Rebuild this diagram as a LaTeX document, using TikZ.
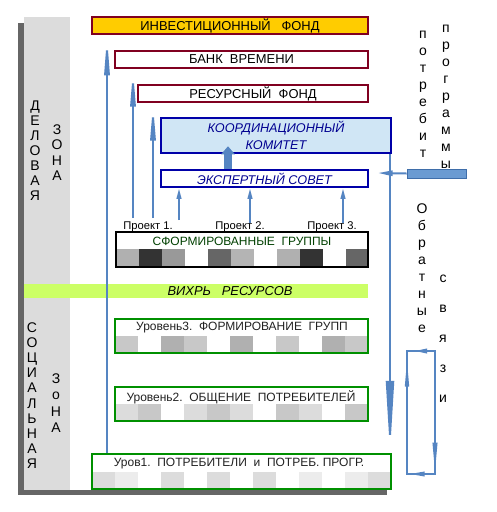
\documentclass[tikz,border=0pt]{standalone}
\usepackage{fontspec}
\setmainfont{Liberation Sans}
\usetikzlibrary{arrows.meta,fit}
\definecolor{dred}{RGB}{128,0,32}
\definecolor{fyel}{HTML}{FFCC00}
\definecolor{bbord}{HTML}{0000A8}
\definecolor{btext}{HTML}{000090}
\definecolor{lblue}{HTML}{D0E6F5}
\definecolor{gbord}{HTML}{009000}
\definecolor{vband}{HTML}{CCFF66}
\definecolor{gtext}{HTML}{004000}
\definecolor{tdark}{HTML}{222222}
\definecolor{arr}{HTML}{5585C2}
\definecolor{arrd}{HTML}{3F6EAA}
\definecolor{arrf}{HTML}{6B9BD2}
\definecolor{shad}{HTML}{666666}
\definecolor{zone}{HTML}{DCDCDC}
\begin{document}
\begin{tikzpicture}[x=0.75pt,y=-0.75pt,
  redbox/.style={draw=dred, line width=2pt, inner sep=0pt},
  redtxt/.style={font=\fontsize{9.7}{11}\selectfont, inner sep=0pt},
  bluebox/.style={draw=bbord, line width=1.9pt, inner sep=0pt},
  bluetxt/.style={font=\fontsize{9.5}{12.75}\selectfont\itshape, text=btext, align=center, inner sep=0pt},
  greenbox/.style={draw=gbord, line width=1.6pt, inner sep=0pt},
  lvltxt/.style={font=\fontsize{9}{11}\selectfont, text=tdark},
  projtxt/.style={font=\fontsize{8.4}{10}\selectfont, text=black},
  zl/.style={anchor=base, font=\fontsize{10.5}{12}\selectfont},
  rl/.style={anchor=base, font=\fontsize{10.5}{12}\selectfont},
  upa/.style={draw=arr, line width=1.5pt},
  loopa/.style={draw=arr, line width=1.1pt}
]
\useasboundingbox (0,0) rectangle (497,512);
\fill[white] (0,0) rectangle (497,512);
% panel with shadow
\fill[shad] (18,23) rectangle (387,495);
\fill[white] (24,17) rectangle (393,490);
\fill[zone] (24,17) rectangle (70,490);
\node[fit={(24,284)(368,298)}, fill=vband, inner sep=0pt] (band) {};
\node[font=\fontsize{9.7}{11}\selectfont\itshape] (vx) at (230,291) {ВИХРЬ\ \ \ РЕСУРСОВ};

% top boxes
\node[redbox, fill=fyel, fit={(92,17)(368,34)}] (inv) {};
\node[redtxt] (invt) at (inv.center) {ИНВЕСТИЦИОННЫЙ\ \ \ ФОНД};
\node[redbox, fill=white, fit={(115,51)(368,68)}] (bank) {};
\node[redtxt] (bankt) at (bank.center) {БАНК\ \ ВРЕМЕНИ};
\node[redbox, fill=white, fit={(138,85)(368,102)}] (rfond) {};
\node[redtxt] (rfondt) at (rfond.center) {РЕСУРСНЫЙ\ \ ФОНД};
\node[bluebox, fill=lblue, fit={(161,118)(391,153)}] (kk) {};
\node[bluetxt] (kkt) at (kk.center) {КООРДИНАЦИОННЫЙ\\КОМИТЕТ};
\node[bluebox, fill=white, fit={(161,170)(368,187)}] (es) {};
\node[bluetxt] (est) at (es.center) {ЭКСПЕРТНЫЙ СОВЕТ};

% projects
\node[projtxt] (p1) at (148,227) {Проект 1.};
\node[projtxt] (p2) at (240,227) {Проект 2.};
\node[projtxt] (p3) at (332,227) {Проект 3.};

% formed groups
\foreach \c [count=\i from 0] in {176,51,153,255,102,180,255,176,51,255,102}
  \fill[fill={rgb,255:red,\c;green,\c;blue,\c}] (116+23*\i,249) rectangle ++(23,17);
\node[fit={(116,232)(368,267)}, draw=black, line width=0.8pt, inner sep=0pt] (sg) {};
\node[font=\fontsize{9}{11}\selectfont, text=gtext] (sgt) at (242,241) {СФОРМИРОВАННЫЕ\ \ ГРУППЫ};

% level 3
\foreach \c [count=\i from 0] in {200,255,176,200,255,176,255,200,255,176,200}
  \fill[fill={rgb,255:red,\c;green,\c;blue,\c}] (115+23*\i,336) rectangle ++(23,16);
\node[greenbox, fit={(115,319)(368,353)}] (l3) {};
\node[lvltxt] (l3t) at (242,328) {Уровень3.\ \ ФОРМИРОВАНИЕ\ \ ГРУПП};

% level 2
\foreach \c [count=\i from 0] in {220,200,255,220,200,220,255,200,220,255,200}
  \fill[fill={rgb,255:red,\c;green,\c;blue,\c}] (115+23*\i,404) rectangle ++(23,16);
\node[greenbox, fit={(115,387)(368,421)}] (l2) {};
\node[lvltxt] (l2t) at (241,397) {Уровень2.\ \ ОБЩЕНИЕ\ \ ПОТРЕБИТЕЛЕЙ};

% level 1
\foreach \c [count=\i from 0] in {220,236,255,220,255,220,255,220,255,236,255,236,220}
  \fill[fill={rgb,255:red,\c;green,\c;blue,\c}] (92+23*\i,472) rectangle ++(23,16);
\node[greenbox, fit={(92,454)(391,489)}] (l1) {};
\node[lvltxt] (l1t) at (239,464) {Уров1.\ \ ПОТРЕБИТЕЛИ\ \ и\ \ ПОТРЕБ. ПРОГР.};

% zone labels
\foreach \ch [count=\i from 0] in {Д,Е,Л,О,В,А,Я}
  \node[zl] (dz\i) at (35,110+15.1*\i) {\ch};
\foreach \ch [count=\i from 0] in {З,О,Н,А}
  \node[zl] (dzo\i) at (57,134.5+15.3*\i) {\ch};
\foreach \ch [count=\i from 0] in {С,О,Ц,И,А,Л,Ь,Н,А,Я}
  \node[zl] (sz\i) at (32,332.5+15.1*\i) {\ch};
\foreach \ch [count=\i from 0] in {З,о,Н,А}
  \node[zl] (szo\i) at (56,383.5+16.3*\i) {\ch};

% right labels
\foreach \ch [count=\i from 0] in {п,о,т,р,е,б,и,т}
  \node[rl] (rp\i) at (423,38+17.1*\i) {\ch};
\foreach \ch [count=\i from 0] in {п,р,о,г,р,а,м,м,ы}
  \node[rl] (rg\i) at (446,32+17*\i) {\ch};
\foreach \ch [count=\i from 0] in {О,б,р,а,т,н,ы,е}
  \node[rl] (ro\i) at (422,213+17.1*\i) {\ch};
\foreach \ch [count=\i from 0] in {с,в,я,з,и}
  \node[rl] (rs\i) at (443,282+30*\i) {\ch};

% up arrows to funds
\coordinate (c1) at (107,0);
\coordinate (a2) at (133,218);
\coordinate (a3) at (153,218);
\draw[upa, -{Triangle[length=30pt,width=4pt]}] (l1.north -| c1) -- (inv.south -| c1);
\draw[upa, -{Triangle[length=28pt,width=4pt]}] (a2) -- (bank.south -| a2);
\draw[upa, -{Triangle[length=28pt,width=4pt]}] (a3) -- (rfond.south -| a3);

% project arrows
\coordinate (q1) at (179,220);
\coordinate (q2) at (250,223);
\coordinate (q3) at (343,223);
\draw[upa, -{Triangle[length=8pt,width=3.5pt]}] (q1) -- (es.south -| q1);
\draw[upa, -{Triangle[length=8pt,width=3.5pt]}] (q2) -- (es.south -| q2);
\draw[upa, -{Triangle[length=8pt,width=3.5pt]}] (q3) -- (es.south -| q3);

% fat arrow expert -> committee
\coordinate (fx) at (228,0);
\draw[draw=arr, line width=6pt, -{Triangle[length=6pt,width=10pt]}, shorten >=-6pt] (es.north -| fx) -- (kk.south -| fx);

% right vertical line with down arrow
\coordinate (rx) at (390,0);
\draw[upa, -{Triangle[length=54pt,width=6pt]}] (kk.south -| rx) -- (l1.north -| rx);

% fat horizontal arrow from programs
\node[fit={(407,169)(466,178)}, fill=arrf, draw=arrd, line width=0.7pt, inner sep=0pt] (fat) {};
\coordinate (ftip) at (378,173);
\draw[upa, -{Triangle[length=11pt,width=4pt]}] (fat.west) -- (ftip);

% feedback loop
\coordinate (lt) at (407,351);
\coordinate (rt) at (435,351);
\coordinate (rb) at (435,474);
\coordinate (lb) at (407,474);
\draw[loopa] (lt) -- (rt) -- (rb) -- (lb) -- cycle;
\coordinate (t1) at (415,351);
\coordinate (t2) at (435,472);
\coordinate (t3) at (410,474);
\coordinate (t4) at (407,360);
\draw[loopa, -{Triangle[length=9pt,width=3.5pt]}] (rt) -- (t1);
\draw[loopa, -{Triangle[length=22pt,width=3.5pt]}] (rt) -- (t2);
\draw[loopa, -{Triangle[length=11pt,width=3.5pt]}] (rb) -- (t3);
\draw[loopa, -{Triangle[length=20pt,width=3pt]}] (lb) -- (t4);
\end{tikzpicture}
\end{document}
